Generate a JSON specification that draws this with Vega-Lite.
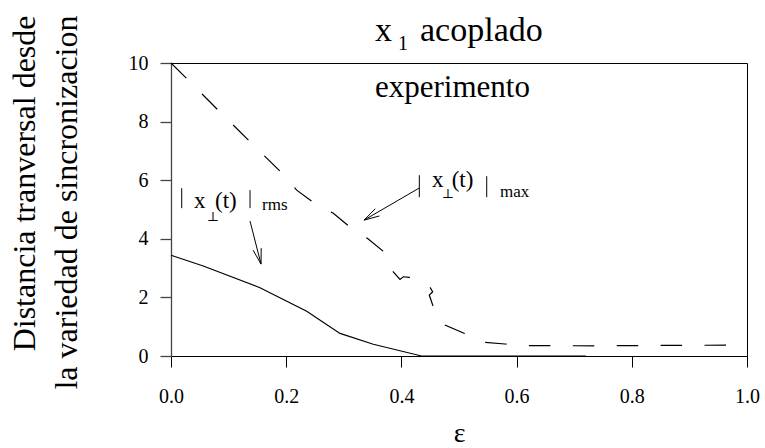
{
  "$schema": "https://vega.github.io/schema/vega-lite/v6.json",
  "width": 576,
  "height": 293,
  "autosize": {"type": "none"},
  "padding": {"left": 171, "top": 63, "right": 18, "bottom": 92},
  "background": "white",
  "config": {
    "view": {"stroke": "black", "strokeWidth": 1},
    "font": "Liberation Serif",
    "text": {"font": "Liberation Serif, DejaVu Serif", "color": "black"}
  },
  "datasets": {
    "rms": [
      {"eps": 0.0, "value": 3.44},
      {"eps": 0.056, "value": 3.07},
      {"eps": 0.1545, "value": 2.33},
      {"eps": 0.2356, "value": 1.53},
      {"eps": 0.2934, "value": 0.77},
      {"eps": 0.3512, "value": 0.4},
      {"eps": 0.435, "value": 0.0},
      {"eps": 0.72, "value": 0.0}
    ],
    "max": [
      {"eps": 0.0, "value": 10.0},
      {"eps": 0.0273, "value": 9.47},
      {"eps": 0.0833, "value": 8.36},
      {"eps": 0.1384, "value": 7.29},
      {"eps": 0.1922, "value": 6.25},
      {"eps": 0.2182, "value": 5.66},
      {"eps": 0.2483, "value": 5.23},
      {"eps": 0.2818, "value": 4.87},
      {"eps": 0.309, "value": 4.43},
      {"eps": 0.3425, "value": 3.99},
      {"eps": 0.3675, "value": 3.59},
      {"eps": 0.3859, "value": 2.874},
      {"eps": 0.3976, "value": 2.615},
      {"eps": 0.4033, "value": 2.704},
      {"eps": 0.4137, "value": 2.683},
      {"eps": 0.4497, "value": 2.344},
      {"eps": 0.4543, "value": 2.192},
      {"eps": 0.4484, "value": 2.08},
      {"eps": 0.4543, "value": 1.739},
      {"eps": 0.4757, "value": 1.057},
      {"eps": 0.5087, "value": 0.774},
      {"eps": 0.5422, "value": 0.467},
      {"eps": 0.5799, "value": 0.409},
      {"eps": 0.6203, "value": 0.351},
      {"eps": 0.658, "value": 0.351},
      {"eps": 0.745, "value": 0.348},
      {"eps": 0.832, "value": 0.358},
      {"eps": 1.0, "value": 0.375}
    ],
    "arrows": [
      {"x": 0.1372, "y": 4.603, "x2": 0.1563, "y2": 3.137},
      {"x": 0.1566, "y": 3.682, "x2": 0.1563, "y2": 3.137},
      {"x": 0.1425, "y": 3.614, "x2": 0.1563, "y2": 3.137},
      {"x": 0.4306, "y": 5.728, "x2": 0.3351, "y2": 4.637},
      {"x": 0.3618, "y": 4.78, "x2": 0.3351, "y2": 4.637},
      {"x": 0.3547, "y": 5.026, "x2": 0.3351, "y2": 4.637}
    ],
    "delimiters": [
      {"x": 0.0186, "y": 5.728, "x2": 0.0186, "y2": 5.046},
      {"x": 0.1372, "y": 5.66, "x2": 0.1372, "y2": 5.046},
      {"x": 0.4311, "y": 6.171, "x2": 0.4311, "y2": 5.421},
      {"x": 0.5481, "y": 6.137, "x2": 0.5481, "y2": 5.421}
    ],
    "labels": [
      {"eps": 0.3542, "value": 10.74, "text": "x", "role": "heading"},
      {"eps": 0.4323, "value": 10.74, "text": "acoplado", "role": "heading"},
      {"eps": 0.394, "value": 10.43, "text": "1", "role": "index"},
      {"eps": 0.3542, "value": 8.84, "text": "experimento", "role": "caption"},
      {"eps": 0.0399, "value": 5.046, "text": "x", "role": "sym"},
      {"eps": 0.062, "value": 4.603, "text": "⊥", "role": "perp"},
      {"eps": 0.0764, "value": 5.046, "text": "(t)", "role": "sym"},
      {"eps": 0.158, "value": 4.978, "text": "rms", "role": "norm"},
      {"eps": 0.4531, "value": 5.762, "text": "x", "role": "sym"},
      {"eps": 0.47, "value": 5.387, "text": "⊥", "role": "perp"},
      {"eps": 0.4873, "value": 5.762, "text": "(t)", "role": "sym"},
      {"eps": 0.5712, "value": 5.421, "text": "max", "role": "norm"}
    ]
  },
  "layer": [
    {
      "data": {"name": "rms"},
      "mark": {"type": "line", "color": "black", "strokeWidth": 1.2},
      "encoding": {
        "x": {
          "field": "eps", "type": "quantitative",
          "scale": {"domain": [0, 1], "nice": false, "zero": false},
          "axis": {
            "values": [0, 0.2, 0.4, 0.6, 0.8, 1],
            "format": ".1f",
            "grid": false,
            "domainColor": "black",
            "tickColor": "black",
            "tickSize": 11,
            "labelFont": "Liberation Serif",
            "labelFontSize": 20,
            "labelColor": "black",
            "labelPadding": 35,
            "labelBaseline": "alphabetic",
            "labelFlush": false,
            "labelOverlap": false,
            "title": "ε",
            "titleFont": "Liberation Serif",
            "titleFontSize": 28,
            "titleFontWeight": "normal",
            "titleColor": "black",
            "titleX": 288,
            "titleY": 85,
            "titleAlign": "center",
            "titleBaseline": "alphabetic",
            "titleAngle": 0
          }
        },
        "y": {
          "field": "value", "type": "quantitative",
          "scale": {"domain": [0, 10], "nice": false},
          "axis": {
            "values": [0, 2, 4, 6, 8, 10],
            "grid": false,
            "domainColor": "#444",
            "tickColor": "#444",
            "domainWidth": 1.3,
            "tickWidth": 1.3,
            "tickSize": 11,
            "labelFont": "Liberation Serif",
            "labelFontSize": 20,
            "labelColor": "black",
            "labelPadding": 12,
            "title": ["Distancia tranversal desde", "la variedad de sincronizacion"],
            "titleFont": "Liberation Serif",
            "titleFontSize": 32,
            "titleLineHeight": 42,
            "titleFontWeight": "normal",
            "titleColor": "black",
            "titleAngle": -90,
            "titleAlign": "right",
            "titleBaseline": "alphabetic",
            "titleX": -137,
            "titleY": -48
          }
        },
        "order": {"value": null}
      }
    },
    {
      "data": {"name": "max"},
      "mark": {"type": "line", "color": "black", "strokeWidth": 1.2, "strokeDash": [21.5, 22.4]},
      "encoding": {
        "x": {"field": "eps", "type": "quantitative"},
        "y": {"field": "value", "type": "quantitative"},
        "order": {"value": null}
      }
    },
    {
      "data": {"name": "arrows"},
      "mark": {"type": "rule", "color": "black", "strokeWidth": 1},
      "encoding": {
        "x": {"field": "x", "type": "quantitative"},
        "y": {"field": "y", "type": "quantitative"},
        "x2": {"field": "x2"},
        "y2": {"field": "y2"}
      }
    },
    {
      "data": {"name": "delimiters"},
      "mark": {"type": "rule", "color": "black", "strokeWidth": 1},
      "encoding": {
        "x": {"field": "x", "type": "quantitative"},
        "y": {"field": "y", "type": "quantitative"},
        "x2": {"field": "x2"},
        "y2": {"field": "y2"}
      }
    },
    {
      "data": {"name": "labels"},
      "transform": [{"filter": "datum.role === 'heading'"}],
      "mark": {"type": "text", "fontSize": 34, "align": "left", "baseline": "alphabetic", "fill": "black"},
      "encoding": {
        "x": {"field": "eps", "type": "quantitative"},
        "y": {"field": "value", "type": "quantitative"},
        "text": {"field": "text"}
      }
    },
    {
      "data": {"name": "labels"},
      "transform": [{"filter": "datum.role === 'index'"}],
      "mark": {"type": "text", "fontSize": 20, "align": "left", "baseline": "alphabetic", "fill": "black"},
      "encoding": {
        "x": {"field": "eps", "type": "quantitative"},
        "y": {"field": "value", "type": "quantitative"},
        "text": {"field": "text"}
      }
    },
    {
      "data": {"name": "labels"},
      "transform": [{"filter": "datum.role === 'caption'"}],
      "mark": {"type": "text", "fontSize": 31, "align": "left", "baseline": "alphabetic", "fill": "black"},
      "encoding": {
        "x": {"field": "eps", "type": "quantitative"},
        "y": {"field": "value", "type": "quantitative"},
        "text": {"field": "text"}
      }
    },
    {
      "data": {"name": "labels"},
      "transform": [{"filter": "datum.role === 'sym'"}],
      "mark": {"type": "text", "fontSize": 23, "align": "left", "baseline": "alphabetic", "fill": "black"},
      "encoding": {
        "x": {"field": "eps", "type": "quantitative"},
        "y": {"field": "value", "type": "quantitative"},
        "text": {"field": "text"}
      }
    },
    {
      "data": {"name": "labels"},
      "transform": [{"filter": "datum.role === 'perp'"}],
      "mark": {"type": "text", "fontSize": 13, "align": "left", "baseline": "alphabetic", "fill": "black"},
      "encoding": {
        "x": {"field": "eps", "type": "quantitative"},
        "y": {"field": "value", "type": "quantitative"},
        "text": {"field": "text"}
      }
    },
    {
      "data": {"name": "labels"},
      "transform": [{"filter": "datum.role === 'norm'"}],
      "mark": {"type": "text", "fontSize": 17, "align": "left", "baseline": "alphabetic", "fill": "black"},
      "encoding": {
        "x": {"field": "eps", "type": "quantitative"},
        "y": {"field": "value", "type": "quantitative"},
        "text": {"field": "text"}
      }
    }
  ]
}
